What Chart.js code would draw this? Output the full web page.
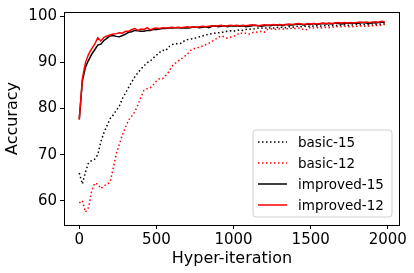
<!DOCTYPE html>
<html>
<head>
<meta charset="utf-8">
<script src="https://cdn.jsdelivr.net/npm/chart.js@4"></script>
<style>
  html, body { margin: 0; padding: 0; background: #fff; }
  canvas { display: block; }
</style>
</head>
<body>
<canvas id="grafico" width="414" height="273"></canvas>
<script>
// Accuracy per hyper-iteration (one point every 20 iterations)
const step = 20;

const basic15 = [
  66.0, 63.6, 66.2, 68.2, 68.7, 69.0, 70.0, 72.8, 74.8, 76.3,
  77.8, 78.6, 79.6, 80.6, 82.2, 83.4, 84.6, 85.8, 86.9, 87.8,
  88.6, 89.3, 90.0, 90.3, 91.0, 91.6, 92.2, 92.7, 92.6, 93.4,
  93.9, 94.1, 94.1, 94.2, 94.7, 95.0, 95.1, 95.2, 95.4, 95.6,
  95.8, 96.0, 96.2, 96.3, 96.4, 96.5, 96.5, 96.7, 96.8, 96.9,
  96.8, 97.0, 97.1, 97.0, 97.2, 97.3, 97.2, 97.4, 97.5, 97.5,
  97.6, 97.4, 97.6, 97.5, 97.7, 97.6, 97.7, 97.6, 97.8, 97.7,
  97.8, 97.9, 97.8, 97.9, 97.8, 98.0, 97.9, 98.0, 97.9, 98.0,
  98.1, 98.0, 98.1, 98.0, 98.2, 98.1, 98.2, 98.1, 98.2, 98.2,
  98.3, 98.2, 98.3, 98.2, 98.3, 98.4, 98.3, 98.3, 98.4, 98.4
];

const basic12 = [
  59.5, 60.0, 57.5, 58.5, 62.0, 63.8, 63.6, 62.6, 63.2, 63.6,
  64.0, 67.0, 70.2, 72.3, 74.3, 76.0, 77.5, 78.4, 79.3, 80.8,
  82.5, 84.0, 84.3, 84.5, 85.2, 86.0, 86.5, 86.5, 87.2, 88.0,
  89.2, 89.8, 90.3, 90.8, 91.3, 91.8, 92.6, 93.0, 93.1, 93.4,
  93.6, 93.9, 94.2, 94.6, 95.0, 95.5, 95.8, 95.6, 95.3, 95.5,
  95.7, 96.0, 96.5, 96.3, 96.4, 96.2, 96.5, 96.7, 96.6, 96.8,
  96.6, 97.2, 97.3, 97.3, 97.2, 97.4, 97.3, 97.4, 97.3, 97.5,
  97.4, 97.5, 97.4, 97.0, 97.3, 97.7, 97.5, 97.6, 97.5, 97.6,
  97.7, 97.6, 97.8, 97.7, 97.9, 97.8, 97.9, 97.8, 97.9, 97.8,
  97.9, 98.0, 97.9, 98.0, 97.9, 98.0, 98.1, 98.0, 98.2, 98.3
];

const improved15 = [
  77.7, 86.0, 89.0, 90.5, 91.8, 92.8, 93.8, 94.0, 94.8, 95.3,
  95.8, 95.9, 95.7, 95.6, 95.9, 96.2, 96.6, 96.7, 97.0, 96.9,
  96.8, 96.8, 97.0, 97.0, 97.2, 97.2, 97.3, 97.4, 97.4, 97.5,
  97.5, 97.6, 97.6, 97.5, 97.6, 97.5, 97.6, 97.8, 97.7, 97.6,
  97.7, 97.8, 97.6, 97.9, 98.0, 97.8, 97.9, 98.0, 97.8, 98.0,
  97.9, 98.0, 97.9, 98.0, 97.8, 97.9, 98.0, 98.1, 98.0, 97.9,
  98.0, 98.1, 98.0, 98.2, 98.1, 98.2, 98.0, 98.3, 98.2, 98.2,
  98.3, 98.4, 98.3, 98.2, 98.4, 98.3, 98.5, 98.3, 98.4, 98.5,
  98.4, 98.5, 98.4, 98.6, 98.5, 98.4, 98.5, 98.6, 98.5, 98.6,
  98.5, 98.6, 98.7, 98.6, 98.5, 98.7, 98.6, 98.7, 98.8, 98.7
];

const improved12 = [
  77.6, 86.5, 90.0, 91.8, 93.0, 94.0, 95.4, 94.7, 95.5, 95.8,
  96.0, 96.2, 96.3, 96.5, 96.4, 96.8, 96.8, 97.2, 97.4, 97.0,
  97.3, 97.2, 97.6, 97.1, 97.4, 97.5, 97.4, 97.6, 97.5, 97.6,
  97.7, 97.6, 97.7, 97.6, 97.7, 97.8, 97.7, 97.8, 97.7, 97.8,
  97.9, 97.8, 97.9, 98.0, 97.9, 98.0, 98.1, 97.9, 98.0, 98.1,
  98.0, 98.1, 98.0, 98.1, 98.0, 98.1, 98.2, 98.1, 98.0, 98.1,
  98.2, 98.1, 98.2, 98.3, 98.2, 98.3, 98.2, 98.3, 98.4, 98.3,
  98.4, 98.5, 98.4, 98.3, 98.5, 98.4, 98.5, 98.4, 98.5, 98.6,
  98.5, 98.6, 98.5, 98.6, 98.7, 98.6, 98.7, 98.6, 98.7, 98.6,
  98.7, 98.8, 98.7, 98.8, 98.7, 98.8, 98.9, 98.8, 99.0, 98.9
];

const seriesNames = ['basic-15', 'basic-12', 'improved-15', 'improved-12'];
const xTicks = [0, 500, 1000, 1500, 2000];
const yTicks = [60, 70, 80, 90, 100];

const pontos = valores => valores.map((v, i) => ({ x: i * step, y: v }));

// Legend drawn inside the plot, bottom right, like matplotlib
const legendaInterna = {
  id: 'legendaInterna',
  afterDatasetsDraw(chart) {
    const { ctx, chartArea } = chart;
    const w = 139, h = 87;
    const x0 = chartArea.right - 8 - w;
    const y0 = chartArea.bottom - 8 - h;
    ctx.save();
    ctx.beginPath();
    ctx.roundRect(x0, y0, w, h, 3);
    ctx.fillStyle = 'rgba(255,255,255,0.8)';
    ctx.fill();
    ctx.strokeStyle = '#d0d0d0';
    ctx.lineWidth = 1;
    ctx.stroke();
    ctx.font = '13.5px "DejaVu Sans"';
    ctx.textBaseline = 'middle';
    chart.data.datasets.forEach((ds, i) => {
      const y = y0 + 12 + i * 21;
      ctx.beginPath();
      ctx.strokeStyle = ds.borderColor;
      ctx.lineWidth = ds.borderWidth;
      ctx.setLineDash(ds.borderDash || []);
      ctx.moveTo(x0 + 5, y);
      ctx.lineTo(x0 + 34, y);
      ctx.stroke();
      ctx.setLineDash([]);
      ctx.fillStyle = '#000';
      ctx.fillText(ds.label, x0 + 45, y + 1);
    });
    ctx.restore();
  },
  afterDraw(chart) {
    const { ctx, chartArea } = chart;
    ctx.save();
    ctx.strokeStyle = '#000';
    ctx.lineWidth = 1;
    ctx.strokeRect(Math.round(chartArea.left) + 0.5, Math.round(chartArea.top) + 0.5,
      Math.round(chartArea.right - chartArea.left) - 1, Math.round(chartArea.bottom - chartArea.top));
    ctx.restore();
  }
};

const linha = (nome, valores, cor, pontilhado, ordem) => ({
  label: nome,
  data: pontos(valores),
  borderColor: cor,
  backgroundColor: cor,
  borderWidth: 1.5,
  borderDash: pontilhado ? [1.5, 2.5] : [],
  pointRadius: 0,
  tension: 0,
  order: ordem
});

const fonteTicks = { family: 'DejaVu Sans', size: 15 };
const fonteTitulo = { family: 'DejaVu Sans', size: 16 };

new Chart(document.getElementById('grafico').getContext('2d'), {
  type: 'line',
  data: {
    datasets: [
      linha(seriesNames[0], basic15, '#000000', true, 4),
      linha(seriesNames[1], basic12, '#ff0000', true, 3),
      linha(seriesNames[2], improved15, '#000000', false, 2),
      linha(seriesNames[3], improved12, '#ff0000', false, 1)
    ]
  },
  options: {
    responsive: false,
    animation: false,
    layout: { padding: { top: 7, right: 14, left: 0, bottom: 0 } },
    plugins: { legend: { display: false }, tooltip: { enabled: false } },
    scales: {
      x: {
        type: 'linear',
        min: -99,
        max: 2079,
        afterBuildTicks: s => { s.ticks = xTicks.map(v => ({ value: v })); },
        afterFit: s => { s.height = 48; },
        grid: { drawOnChartArea: false, tickLength: 4, tickColor: '#000' },
        border: { display: false },
        ticks: { font: fonteTicks, color: '#000', padding: 2, maxRotation: 0, callback: v => String(v) },
        title: { display: true, text: 'Hyper-iteration', font: fonteTitulo, color: '#000', padding: { top: 0, bottom: 5 } }
      },
      y: {
        min: 54.7,
        max: 101.0,
        afterBuildTicks: s => { s.ticks = yTicks.map(v => ({ value: v })); },
        afterFit: s => { s.width = 64; },
        grid: { drawOnChartArea: false, tickLength: 4, tickColor: '#000' },
        border: { display: false },
        ticks: { font: fonteTicks, color: '#000', padding: 3, callback: v => String(v) },
        title: { display: true, text: 'Accuracy', font: fonteTitulo, color: '#000', padding: { top: 3, bottom: 0 } }
      }
    }
  },
  plugins: [legendaInterna]
});
</script>
</body>
</html>
